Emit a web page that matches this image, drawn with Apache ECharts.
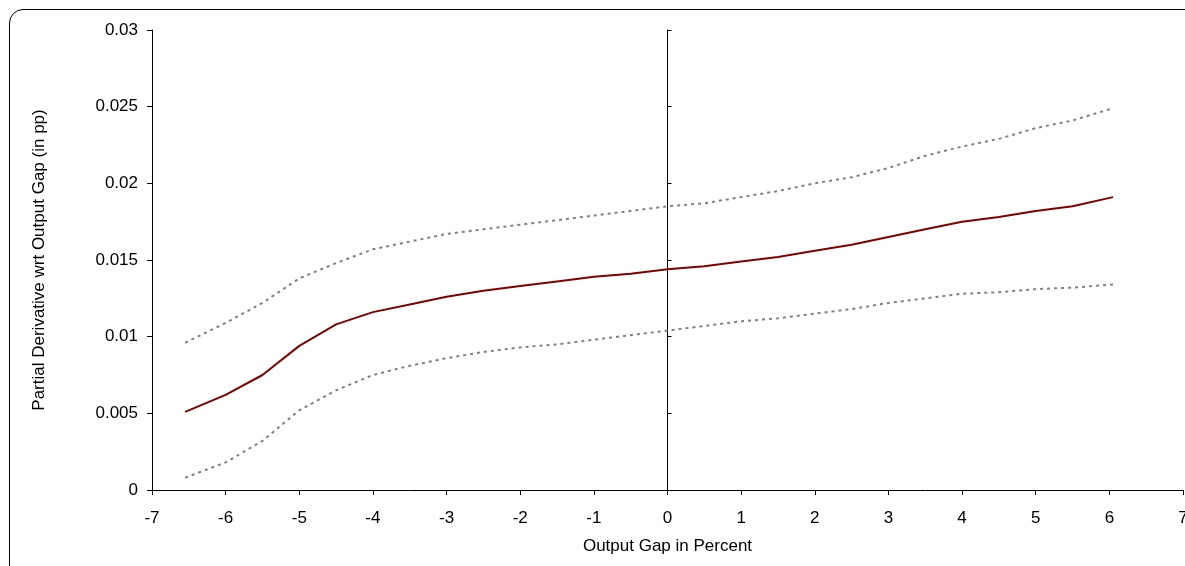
<!DOCTYPE html><html><head><meta charset="utf-8"><script src="https://cdn.jsdelivr.net/npm/echarts@6/dist/echarts.min.js"></script>
<style>body{margin:0}#c{width:1185px;height:566px}#f{position:absolute;left:9px;top:9px;width:1200px;height:580px;border:1px solid #000;border-radius:14px}</style></head><body><div id="f"></div><div id="c" style="position:absolute;left:0;top:0"></div><script>
const xs=[-6.55,-6,-5.5,-5,-4.5,-4,-3.5,-3,-2.5,-2,-1.5,-1,-0.5,0,0.5,1,1.5,2,2.5,3,3.5,4,4.5,5,5.5,6.05];
const mid=[0.0051,0.0062,0.0075,0.0094,0.0108,0.0116,0.0121,0.0126,0.0130,0.0133,0.0136,0.0139,0.0141,0.0144,0.0146,0.0149,0.0152,0.0156,0.0160,0.0165,0.0170,0.0175,0.0178,0.0182,0.0185,0.0191];
const upper=[0.0096,0.0109,0.0122,0.0138,0.0148,0.0157,0.0162,0.0167,0.0170,0.0173,0.0176,0.0179,0.0182,0.0185,0.0187,0.0191,0.0195,0.0200,0.0204,0.0210,0.0218,0.0224,0.0229,0.0236,0.0241,0.0249];
const lower=[0.0008,0.0018,0.0032,0.0052,0.0065,0.0075,0.0081,0.0086,0.0090,0.0093,0.0095,0.0098,0.0101,0.0104,0.0107,0.0110,0.0112,0.0115,0.0118,0.0122,0.0125,0.0128,0.0129,0.0131,0.0132,0.0134];
const z=a=>xs.map((x,i)=>[x,a[i]]);
const ax={color:'#000'};
const c=echarts.init(document.getElementById('c'));
c.setOption({animation:false,grid:{left:152,width:1031,top:30,bottom:76,outerBoundsMode:'none',containLabel:false},
textStyle:{fontFamily:'Liberation Sans'},
xAxis:{type:'value',min:-7,max:7,interval:1,name:'Output Gap in Percent',nameLocation:'middle',nameGap:48,nameTextStyle:{fontSize:17,color:'#000'},
axisLine:{lineStyle:ax,onZero:false},axisTick:{lineStyle:ax,length:5},splitLine:{show:false},axisLabel:{fontSize:17,color:'#000',margin:20}},
yAxis:[{type:'value',min:0,max:0.03,interval:0.005,name:'Partial Derivative wrt Output Gap (in pp)',nameLocation:'middle',nameGap:104,nameTextStyle:{fontSize:17,color:'#000'},
axisLine:{show:true,lineStyle:ax,onZero:false},axisTick:{show:true,lineStyle:ax,length:5},splitLine:{show:false},axisLabel:{fontSize:17,color:'#000',margin:14}},
{type:'value',min:0,max:0.03,interval:0.005,position:'left',axisLine:{show:true,onZero:true,lineStyle:ax},axisTick:{show:true,inside:true,length:4,lineStyle:ax},axisLabel:{show:false},splitLine:{show:false}}],
series:[{type:'line',data:z(mid),showSymbol:false,lineStyle:{color:'#800000',width:2}},
{type:'line',data:z(upper),showSymbol:false,lineStyle:{color:'#808080',width:2,type:[3,4]}},
{type:'line',data:z(lower),showSymbol:false,lineStyle:{color:'#808080',width:2,type:[3,4]}}]});
</script></body></html>
